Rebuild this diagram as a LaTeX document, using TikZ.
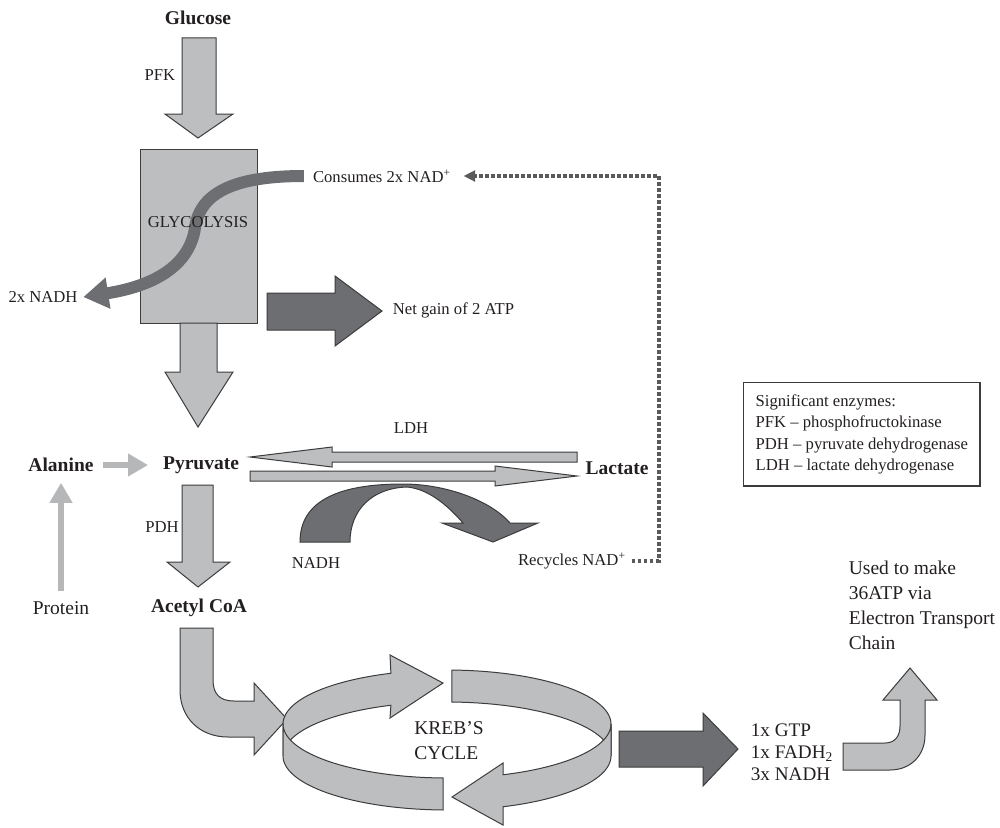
\documentclass[tikz,border=0pt]{standalone}
\usepackage{fontspec}
\setmainfont{Liberation Serif}
\usepackage{tikz}
\usetikzlibrary{arrows.meta}

\definecolor{blockgray}{HTML}{BCBEC0}
\definecolor{blockdark}{HTML}{6D6E71}
\definecolor{edgegray}{HTML}{3C3C3C}
\definecolor{feedgray}{HTML}{B5B7B9}
\definecolor{dotgray}{HTML}{5A5A5C}
\definecolor{inkblack}{HTML}{231F20}

\tikzset{
  lightblock/.style={fill=blockgray, draw=edgegray, line width=0.6pt},
  darkblock/.style={fill=blockdark, draw=edgegray, line width=0.6pt},
  boldlbl/.style={font=\fontsize{11.7}{14}\selectfont\bfseries, text=inkblack},
  lbl/.style={font=\fontsize{10}{12}\selectfont, text=inkblack},
  biglbl/.style={font=\fontsize{11.7}{15}\selectfont, text=inkblack, align=left},
  enzbox/.style={draw=edgegray, line width=0.8pt, align=left, inner xsep=7.2pt,
    inner ysep=7.2pt, font=\fontsize{10}{12.8}\selectfont, text=inkblack},
  feedarrow/.style={draw=feedgray, line width=3.9pt, -{Triangle[width=13pt,length=12pt]}},
  nadflow/.style={draw=blockdark, line width=7.2pt, -{Triangle[width=18pt,length=15pt]}},
  nadloop/.style={draw=dotgray, line width=2.2pt, dash pattern=on 2.2pt off 1.4pt,
    -{Triangle[width=6.5pt,length=7pt]}}
}

\begin{document}
\begin{tikzpicture}[x=0.6pt,y=-0.6pt]
\useasboundingbox (0,0) rectangle (1000,827);

% Glucose into glycolysis
\node[boldlbl] (glucose) at (198,18) {Glucose};
\node[lbl] (pfk) at (160,75) {PFK};
\filldraw[lightblock] (182,38) -- (216,38) -- (216,114) -- (233,114) -- (198,138) -- (165,114) -- (182,114) -- cycle;
\filldraw[lightblock] (140,149) rectangle (257,323);

% NAD+ consumed, NADH out
\node[lbl] (consume) at (382,176) {Consumes 2x NAD\textsuperscript{+}};
\node[lbl] (nadh2) at (43,297) {2x NADH};
\draw[nadflow, shorten <=2pt] (consume.west) .. controls (240,176) and (200,190) .. (195,228)
  .. controls (190,262) and (160,285) .. (nadh2.east);
\node[lbl] (glyco) at (198,222) {GLYCOLYSIS};

% ATP gain
\filldraw[darkblock] (267,293) -- (335,293) -- (335,276) -- (382,311) -- (335,346) -- (335,330) -- (267,330) -- cycle;
\node[lbl, anchor=west] (netgain) at (387,310) {Net gain of 2 ATP};

% down to pyruvate
\filldraw[lightblock] (180,323) -- (217,323) -- (217,372) -- (233,372) -- (198,427) -- (165,372) -- (180,372) -- cycle;
\node[boldlbl] (alanine) at (61,465) {Alanine};
\node[boldlbl] (pyruvate) at (201,465) {Pyruvate};
\node[biglbl] (protein) at (61,608) {Protein};
\draw[feedarrow, shorten <=2pt, shorten >=5.5pt] (alanine) -- (pyruvate);
\draw[feedarrow, shorten <=3pt, shorten >=3pt] (protein) -- (alanine);

% LDH both ways
\node[lbl] (ldh) at (411,428) {LDH};
\node[boldlbl] (lactate) at (617,468) {Lactate};
\filldraw[lightblock] (577,452) -- (332,452) -- (332,447) -- (250,457) -- (332,467) -- (332,462) -- (577,462) -- cycle;
\filldraw[lightblock] (250,471) -- (495,471) -- (495,466) -- (577,476) -- (495,486) -- (495,481) -- (250,481) -- cycle;
\filldraw[darkblock] (300,542) .. controls (300,500) and (340,484) .. (403,484)
  .. controls (445,484) and (490,500) .. (510,523) -- (538,523) -- (493,542) -- (442,523) -- (463,523)
  .. controls (450,508) and (430,489) .. (407,487) .. controls (372,488) and (350,510) .. (350,542) -- cycle;
\node[lbl] (nadhlow) at (316,563) {NADH};
\node[lbl] (recycle) at (572,561) {Recycles NAD\textsuperscript{+}};
\draw[nadloop, shorten >=4pt] (recycle.east) -- ++(27,0) |- (consume.east);

% pyruvate to acetyl CoA
\node[lbl] (pdh) at (162,527) {PDH};
\filldraw[lightblock] (182,485) -- (213,485) -- (213,562) -- (230,562) -- (198,587) -- (167,562) -- (182,562) -- cycle;
\node[boldlbl] (acetyl) at (199,608) {Acetyl CoA};
\filldraw[lightblock] (180,628) -- (213,628) -- (213,680) .. controls (213,694) and (220,701) .. (234,701) -- (254,701)
  -- (254,683) -- (287,719) -- (254,755) -- (254,737) -- (228,737) .. controls (200,737) and (180,718) .. (180,690) -- cycle;

% Kreb's cycle ring, back half first
\filldraw[lightblock] plot[domain=180:110, samples=30, variable=\t] ({447+164*cos(\t)},{724-54*sin(\t)})
  -- (390,655) -- (443,683) -- (390,718)
  -- plot[domain=110:180, samples=30, variable=\t] ({447+164*cos(\t)},{756-54*sin(\t)}) -- cycle;
\filldraw[lightblock] plot[domain=88.3:0, samples=30, variable=\t] ({447+164*cos(\t)},{724-54*sin(\t)})
  -- plot[domain=0:88.3, samples=30, variable=\t] ({447+164*cos(\t)},{756-54*sin(\t)}) -- cycle;
% front half
\filldraw[lightblock] plot[domain=0:-70, samples=30, variable=\t] ({447+164*cos(\t)},{724-54*sin(\t)})
  -- (503,763) -- (452,797) -- (503,825)
  -- plot[domain=-70:0, samples=30, variable=\t] ({447+164*cos(\t)},{756-54*sin(\t)}) -- cycle;
\filldraw[lightblock] plot[domain=-91.4:-180, samples=30, variable=\t] ({447+164*cos(\t)},{724-54*sin(\t)})
  -- plot[domain=-180:-91.4, samples=30, variable=\t] ({447+164*cos(\t)},{756-54*sin(\t)}) -- cycle;
\node[biglbl] (krebs) at (449,741) {KREB'S\\CYCLE};

% products of the cycle
\filldraw[darkblock] (619,731) -- (703,731) -- (703,713) -- (738,749) -- (703,786) -- (703,767) -- (619,767) -- cycle;
\node[biglbl, font=\fontsize{11.5}{13.2}\selectfont, anchor=west] (products) at (745,752)
  {1x GTP\\1x FADH\textsubscript{2}\\3x NADH};
\filldraw[lightblock] (843,743) -- (885,743) .. controls (895,743) and (900,736) .. (900,726) -- (900,700) -- (883,700)
  -- (910,668) -- (937,700) -- (925,700) -- (925,735) .. controls (925,756) and (910,770) .. (890,770) -- (843,770) -- cycle;
\node[biglbl, anchor=west] (etc) at (843,605) {Used to make\\36ATP via\\Electron Transport\\Chain};

% key
\node[enzbox, anchor=north west] (enzymes) at (743,382)
  {Significant enzymes:\\PFK -- phosphofructokinase\\PDH -- pyruvate dehydrogenase\\LDH -- lactate dehydrogenase};
\end{tikzpicture}
\end{document}
